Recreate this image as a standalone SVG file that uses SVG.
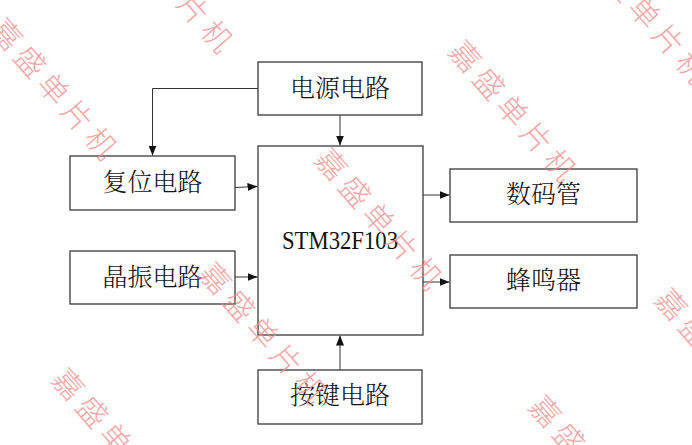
<svg xmlns="http://www.w3.org/2000/svg" width="692" height="445" viewBox="0 0 692 445">
<style>
.box{fill:#fff;stroke:#3a3a3a;stroke-width:1.3}
.lbl{font-family:"Noto Serif CJK SC","Noto Sans CJK SC",serif;font-size:25px;font-weight:300;fill:#111;text-anchor:middle}
.lat{font-family:"Liberation Serif",serif;font-size:26px;fill:#111}
.wire{fill:none;stroke:#333;stroke-width:1}
.wm{font-family:"Noto Sans CJK SC",sans-serif;font-size:30px;font-weight:300;letter-spacing:6px;fill:#f08a8a;opacity:0.75;dominant-baseline:central}
</style>
<defs>
<marker id="arr" markerUnits="userSpaceOnUse" markerWidth="10" markerHeight="8" refX="10" refY="4" orient="auto">
<path d="M0,0 L10,4 L0,8 z" fill="#111"/>
</marker>
</defs>
<rect width="692" height="445" fill="#fff"/>
<g id="connectors">
<path class="wire" d="M258,88.5 H152.5 V155.5" marker-end="url(#arr)"/>
<path class="wire" d="M340,115 V145.5" marker-end="url(#arr)"/>
<path class="wire" d="M235,187.5 L257.5,186.5" marker-end="url(#arr)"/>
<path class="wire" d="M235,277 H257.5" marker-end="url(#arr)"/>
<path class="wire" d="M423,195 H449.5" marker-end="url(#arr)"/>
<path class="wire" d="M423,282 H449.5" marker-end="url(#arr)"/>
<path class="wire" d="M340,370 V335.5" marker-end="url(#arr)"/>
</g>
<g id="power"><rect class="box" x="258" y="62" width="164" height="53"/><text class="lbl" x="340" y="97">电源电路</text></g>
<g id="mcu"><rect class="box" x="258" y="146" width="165" height="189"/><text class="lat" x="282" y="248.5" textLength="116" lengthAdjust="spacingAndGlyphs">STM32F103</text></g>
<g id="reset"><rect class="box" x="70" y="156" width="165" height="54"/><text class="lbl" x="152.5" y="191">复位电路</text></g>
<g id="crystal"><rect class="box" x="70" y="251" width="165" height="53"/><text class="lbl" x="152.5" y="285.5">晶振电路</text></g>
<g id="keys"><rect class="box" x="258" y="370" width="164" height="54"/><text class="lbl" x="340" y="403.5">按键电路</text></g>
<g id="display"><rect class="box" x="450" y="169" width="187" height="53"/><text class="lbl" x="543.5" y="202.5">数码管</text></g>
<g id="buzzer"><rect class="box" x="450" y="255" width="187" height="53"/><text class="lbl" x="543.5" y="288.5">蜂鸣器</text></g>
<g id="watermarks">
<text class="wm" transform="translate(8,33) rotate(49)" x="-15" y="0">嘉盛单片机</text>
<text class="wm" transform="translate(124,-74) rotate(49)" x="-15" y="0">嘉盛单片机</text>
<text class="wm" transform="translate(467,55) rotate(49)" x="-15" y="0">嘉盛单片机</text>
<text class="wm" transform="translate(599,-43) rotate(49)" x="-15" y="0">嘉盛单片机</text>
<text class="wm" transform="translate(333,163) rotate(49)" x="-15" y="0">嘉盛单片机</text>
<text class="wm" transform="translate(217,277) rotate(49)" x="-15" y="0">嘉盛单片机</text>
<text class="wm" transform="translate(70,383) rotate(49)" x="-15" y="0">嘉盛单片机</text>
<text class="wm" transform="translate(547,410) rotate(49)" x="-15" y="0">嘉盛单片机</text>
<text class="wm" transform="translate(673,303) rotate(49)" x="-15" y="0">嘉盛单片机</text>
</g>
</svg>
